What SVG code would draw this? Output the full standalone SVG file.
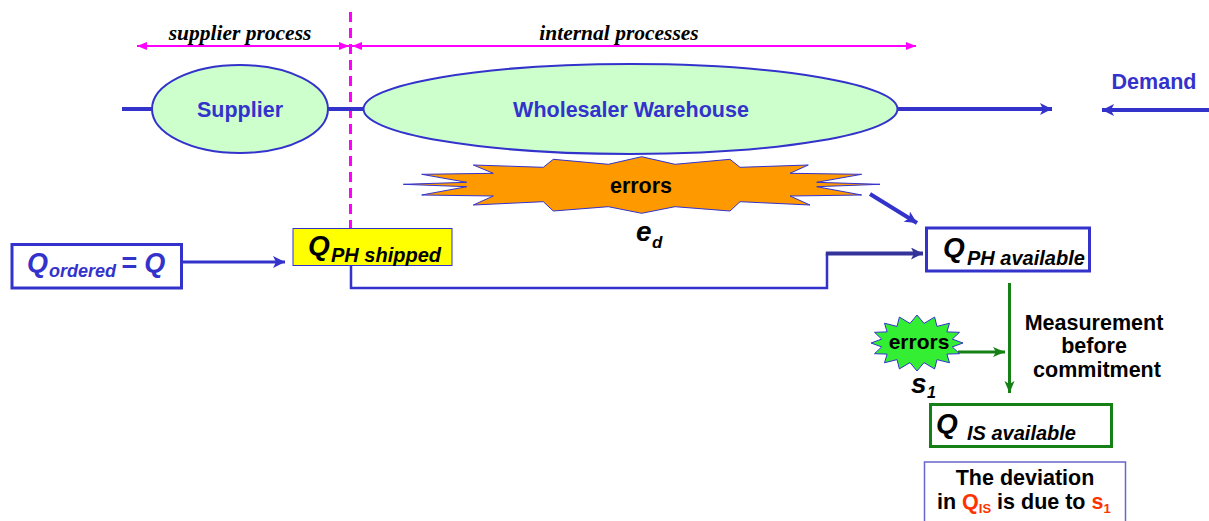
<svg xmlns="http://www.w3.org/2000/svg" width="1209" height="521" viewBox="0 0 1209 521">
<style>
.sans{font-family:"Liberation Sans",Arial,sans-serif;font-weight:bold}
.it{font-style:italic}
.blue{fill:#3333cc}
.blk{fill:#000}
.serif{font-family:"Liberation Serif","Times New Roman",serif;font-weight:bold;font-style:italic;font-size:21.5px;fill:#000}
.ell{fill:#ccffcc;stroke:#3333cc;stroke-width:2}
.bline{stroke:#3333cc;fill:none}
.mag{stroke:#ff00ff;stroke-width:2;fill:none}
.grn{stroke:#158015;stroke-width:3;fill:none}
</style>
<defs>
<marker id="ab" viewBox="0 0 12 12" refX="12" refY="6" markerWidth="12" markerHeight="12" markerUnits="userSpaceOnUse" orient="auto">
<path d="M0,0 L12,6 L0,12 L3,6 Z" fill="#3333cc"/>
</marker>
<marker id="abd" viewBox="0 0 12 12" refX="12" refY="6" markerWidth="12" markerHeight="12" markerUnits="userSpaceOnUse" orient="auto">
<path d="M0,0 L12,6 L0,12 L3,6 Z" fill="#333399"/>
</marker>
<marker id="am" viewBox="0 0 10 8" refX="10" refY="4" markerWidth="10" markerHeight="8" markerUnits="userSpaceOnUse" orient="auto-start-reverse">
<path d="M0,0 L10,4 L0,8 Z" fill="#ff00ff"/>
</marker>
<marker id="ag" viewBox="0 0 12 12" refX="12" refY="6" markerWidth="12" markerHeight="12" markerUnits="userSpaceOnUse" orient="auto">
<path d="M0,1 L12,6 L0,11 L3,6 Z" fill="#158015"/>
</marker>
</defs>

<g id="connectors">
<line class="mag" x1="137" y1="46" x2="349" y2="46" marker-start="url(#am)" marker-end="url(#am)"/>
<line class="mag" x1="352" y1="46" x2="916" y2="46" marker-start="url(#am)" marker-end="url(#am)"/>
<line x1="350.5" y1="12" x2="350.5" y2="238" stroke="#ff00ff" stroke-width="3" stroke-dasharray="10,6"/>
<line class="bline" x1="122" y1="109" x2="152" y2="109" stroke-width="4"/>
<line class="bline" x1="328" y1="109" x2="364" y2="109" stroke-width="4"/>
<line class="bline" x1="897" y1="109" x2="1052" y2="109" stroke-width="4" marker-end="url(#ab)"/>
<line class="bline" x1="1209" y1="110" x2="1102" y2="110" stroke-width="4" marker-end="url(#ab)"/>
<line class="bline" x1="870" y1="194" x2="917" y2="223" stroke-width="4" marker-end="url(#ab)"/>
<line class="bline" x1="182" y1="262" x2="285" y2="262" stroke-width="3" marker-end="url(#ab)"/>
<polyline class="bline" points="351,266 351,288 827,288 827,253.5" stroke-width="2.5"/>
<line x1="825.8" y1="253.5" x2="923" y2="253.5" stroke="#333399" stroke-width="4" marker-end="url(#abd)"/>
<line class="grn" x1="1009.5" y1="283" x2="1009.5" y2="393" marker-end="url(#ag)"/>
<line class="grn" x1="958" y1="352" x2="1005" y2="352" marker-end="url(#ag)"/>
</g>

<g id="labels">
<text class="serif" x="240" y="40" text-anchor="middle">supplier process</text>
<text class="serif" x="619" y="40" text-anchor="middle">internal processes</text>
</g>

<g id="supplier">
<ellipse class="ell" cx="240" cy="109" rx="88" ry="44"/>
<text class="sans blue" x="240" y="117" font-size="21.5" text-anchor="middle">Supplier</text>
</g>

<g id="warehouse">
<ellipse class="ell" cx="630.5" cy="109" rx="267" ry="45"/>
<text class="sans blue" x="631" y="117" font-size="21.5" text-anchor="middle">Wholesaler Warehouse</text>
</g>

<g id="demand">
<text class="sans blue" x="1154" y="89" font-size="21.5" text-anchor="middle">Demand</text>
</g>

<g id="errors-ed">
<polygon fill="#ff9900" stroke="#3333cc" stroke-width="1" points="403.3,184.3 466.7,182.3 421.7,174.3 493.3,173.3 473.3,165 543.3,167.3 553.3,159.3 608.3,164.3 641.7,156.7 675,164.3 730,159.3 740,167.3 808.3,165 790,173.3 861.7,174.3 816.7,182.3 880,184.3 816.7,186.7 861.7,195 790,196 810,205 740,201.7 730,211 675,206.7 641.7,213.3 608.3,206.7 553.3,211 543.3,201.7 473.3,205 493.3,196 421.7,195 466.7,186.7"/>
<text class="sans blk" x="641" y="193" font-size="21.5" text-anchor="middle">errors</text>
<text class="sans it blk" x="636" y="241" font-size="28">e</text>
<text class="sans it blk" x="652" y="248" font-size="17">d</text>
</g>

<g id="q-ordered">
<rect x="12" y="244.5" width="169.5" height="43.5" fill="#fff" stroke="#3333cc" stroke-width="3"/>
<text class="sans it blue" x="27" y="272" font-size="27">Q</text>
<text class="sans it blue" x="49" y="277" font-size="18">ordered</text>
<text class="sans it blue" x="121" y="272" font-size="27">= Q</text>
</g>

<g id="q-ph-shipped">
<rect x="293" y="228.5" width="159" height="37" fill="#ffff00" stroke="#3333cc" stroke-width="1"/>
<text class="sans it blk" x="308" y="255" font-size="28">Q</text>
<text class="sans it blk" x="331" y="262" font-size="20">PH shipped</text>
</g>

<g id="q-ph-available">
<rect x="926.5" y="228" width="163" height="43" fill="#fff" stroke="#3333cc" stroke-width="3"/>
<text class="sans it blk" x="943" y="257" font-size="28">Q</text>
<text class="sans it blk" x="967" y="265" font-size="20">PH available</text>
</g>

<g id="errors-s1">
<polygon fill="#33ee33" stroke="#3333cc" stroke-width="1" points="963,343 952.3,346.9 959.5,353.7 946.9,354.1 949.5,362.8 937,359.6 934.6,368.9 924,362.6 917,371 910,362.6 899.4,368.9 897,359.6 884.5,362.8 887.1,354.1 874.5,353.7 881.7,346.9 871,343 881.7,339.1 874.5,332.3 887.1,331.9 884.5,323.2 897,326.4 899.4,317.1 910,323.4 917,315 924,323.4 934.6,317.1 937,326.4 949.5,323.2 946.9,331.9 959.5,332.3 952.3,339.1"/>
<text class="sans blk" x="919" y="349" font-size="21" text-anchor="middle">errors</text>
<text class="sans it blk" x="911" y="393" font-size="28">s</text>
<text class="sans it blk" x="927" y="398" font-size="16">1</text>
</g>

<g id="measurement">
<text class="sans blk" font-size="21.5" text-anchor="middle">
<tspan x="1097" y="330">Measurement</tspan>
<tspan x="1097" y="353">before</tspan>
<tspan x="1097" y="377">commitment</tspan>
</text>
</g>

<g id="q-is-available">
<rect x="930.5" y="404.5" width="181" height="42" fill="#fff" stroke="#158015" stroke-width="3"/>
<text class="sans it blk" x="936" y="433" font-size="28">Q</text>
<text class="sans it blk" x="967" y="440" font-size="20">IS available</text>
</g>

<g id="deviation-note">
<rect x="924.5" y="462" width="201" height="70" fill="#fff" stroke="#6666cc" stroke-width="1.5"/>
<text class="sans blk" x="1025" y="485" font-size="21.5" text-anchor="middle">The deviation</text>
<text class="sans blk" x="937" y="509" font-size="21.5">in <tspan fill="#ff3300">Q</tspan><tspan fill="#ff3300" font-size="13" dy="4">IS</tspan><tspan dy="-4"> is due to </tspan><tspan fill="#ff3300">s</tspan><tspan fill="#ff3300" font-size="13" dy="4">1</tspan></text>
</g>
</svg>
